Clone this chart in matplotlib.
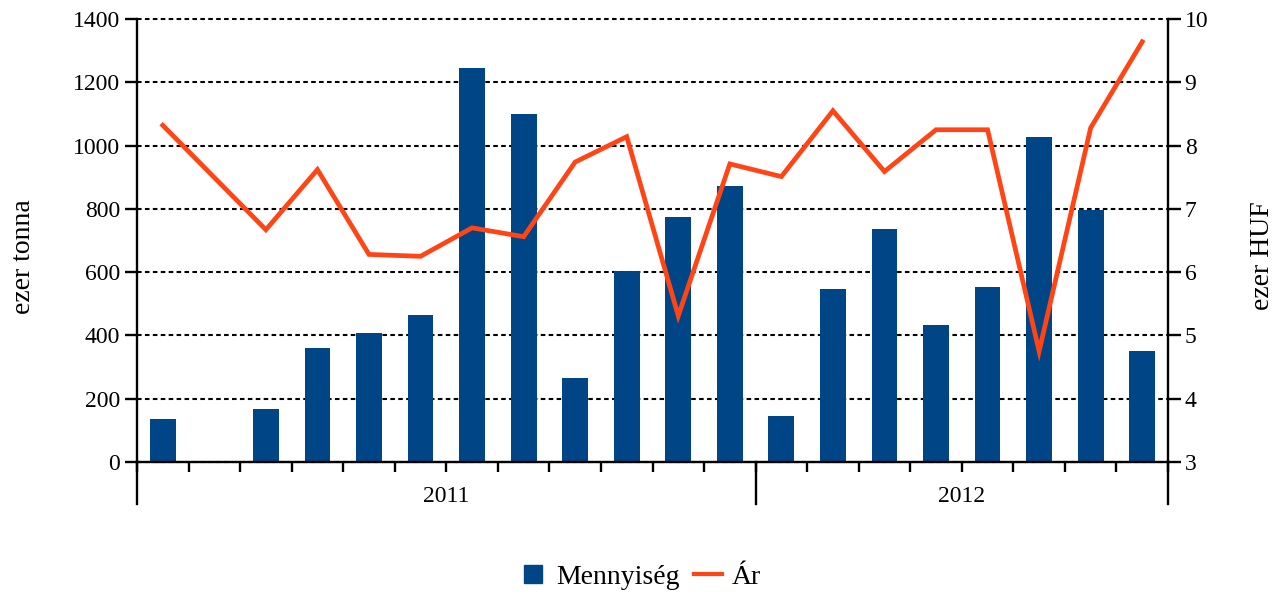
import numpy as np
import matplotlib.pyplot as plt
from matplotlib.lines import Line2D

plt.rcParams['font.family'] = ['Liberation Serif', 'DejaVu Serif']

years = ['2011', '2012']
months_per_year = [12, 8]
mennyiseg = [135, 0, 168, 360, 408, 465, 1245, 1100, 265, 603, 775, 873,
             145, 548, 737, 432, 553, 1027, 795, 350]
ar = [8.32, np.nan, 6.67, 7.62, 6.28, 6.25, 6.70, 6.56, 7.74, 8.14, 5.31, 7.71,
      7.51, 8.55, 7.59, 8.25, 8.25, 4.75, 8.28, 9.64]

bar_color = '#004586'
line_color = '#FF4515'
fs = 17

fig = plt.figure(figsize=(12.86, 5.95), dpi=100)
ax = fig.add_axes([137/1286, 1 - 462/595, (1168-137)/1286, (462-19)/595])
ax2 = ax.twinx()

n = len(mennyiseg)
x = np.arange(n)
ax.bar(x, mennyiseg, width=0.5, color=bar_color, zorder=2)
ar = np.array(ar)
ok = ~np.isnan(ar)
ax2.plot(x[ok], ar[ok], color=line_color, lw=3.4, solid_joinstyle='miter', zorder=3)

ax.set_xlim(-0.5, n - 0.5)
ax.set_ylim(0, 1400)
ax.set_yticks(np.arange(0, 1401, 200))
ax2.set_ylim(3, 10)
ax2.set_yticks(np.arange(3, 11, 1))

ax.yaxis.grid(True, color='black', linestyle=(0, (2.2, 1.6)), lw=1.5, zorder=0)
ax.set_axisbelow(True)
for gl in ax.yaxis.get_gridlines():
    gl.set_clip_on(False)

for a in (ax, ax2):
    a.spines['top'].set_visible(False)
    for s in ('left', 'right', 'bottom'):
        a.spines[s].set_linewidth(1.7)
ax.spines['right'].set_visible(False)
ax2.spines['left'].set_visible(False)
ax2.spines['bottom'].set_visible(False)

ax.tick_params(axis='y', direction='out', length=9, width=1.7, labelsize=fs, pad=3)
ax2.tick_params(axis='y', direction='out', length=9, width=1.7, labelsize=fs, pad=3)
ax.set_xticks(np.arange(-0.5, n, 1))
ax.set_xticklabels([])
ax.tick_params(axis='x', direction='out', length=7, width=1.7)

# extend side spines below and draw year separators
tr = ax.get_xaxis_transform()
bounds = np.concatenate([[0], np.cumsum(months_per_year)]) - 0.5
for b in bounds:
    ax.add_line(Line2D([b, b], [0, -0.095], transform=tr, color='black',
                       lw=1.7, clip_on=False))
for i, yr in enumerate(years):
    ax.text((bounds[i] + bounds[i+1]) / 2, -0.077, yr, transform=tr,
            ha='center', va='center', fontsize=fs)

ax.set_ylabel('ezer tonna', fontsize=20, labelpad=27)
ax2.set_ylabel('ezer HUF', fontsize=20, labelpad=30)
ax.yaxis.label.set_y(0.463)
ax2.yaxis.label.set_y(0.466)

handles = [Line2D([], [], marker='s', ms=13, linestyle='none', color=bar_color,
                  label='Mennyiség'),
           Line2D([], [], color=line_color, lw=3, label='Ár')]
fig.legend(handles=handles, loc='center', bbox_to_anchor=(640/1286, 1 - 577/595),
           ncol=2, frameon=False, fontsize=20, handlelength=1.0,
           handletextpad=0.35, columnspacing=0.5)

fig.savefig('out.png', dpi=100)
